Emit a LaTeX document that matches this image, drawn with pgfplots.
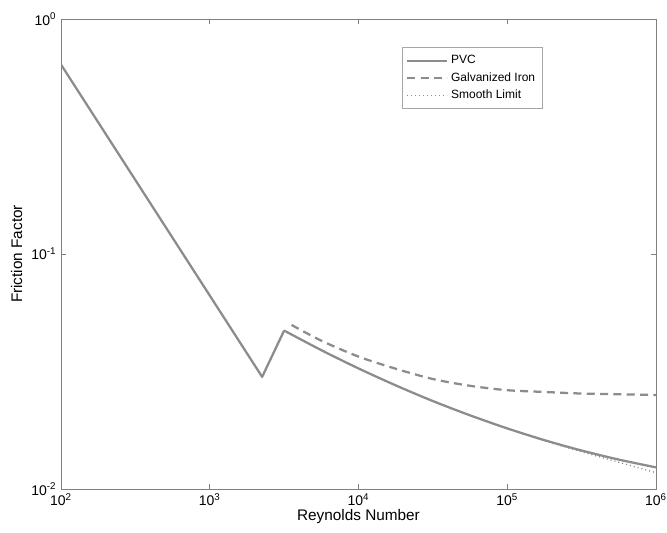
\documentclass[border=0pt]{standalone}
\usepackage{pgfplots}
\pgfplotsset{compat=1.18}
\usepackage{fontspec}
\setmainfont{Liberation Sans}
\usetikzlibrary{calc}
\definecolor{lc}{RGB}{140,140,140}
\begin{document}
\begin{tikzpicture}[x=1pt,y=1pt]
\begin{axis}[
  name=ax,
  xmode=log, ymode=log,
  log basis x=10, log basis y=10,
  scale only axis,
  width=446.25pt, height=352.5pt,
  xmin=100, xmax=1e6, ymin=0.01, ymax=1,
  axis line style={black!50, line width=0.5pt},
  tick style={black!50, line width=0.4pt},
  tick align=inside,
  major tick length=4pt, minor tick length=2.5pt,
  xtick={1e2,1e3,1e4,1e5,1e6},
  ytick={1e-2,1e-1,1e0},
  /pgf/number format/assume math mode=true,
  xticklabel={10\textsuperscript{\pgfmathprintnumber[fixed,precision=0]{\tick}}},
  yticklabel={10\textsuperscript{\pgfmathprintnumber[fixed,precision=0]{\tick}}},
  ticklabel style={font=\fontsize{10.5}{12}\selectfont},
  xlabel={Reynolds Number},
  ylabel={Friction Factor},
  label style={font=\fontsize{11.5}{13}\selectfont},
  xlabel style={yshift=4pt},
  legend style={at={(0.573,0.94)}, anchor=north west, draw=black!35,
    font=\fontsize{9}{11}\selectfont, row sep=1pt, inner xsep=3pt, inner ysep=4pt},
  legend cell align=left,
  legend image code/.code={\draw[#1] (0pt,0pt) -- (30pt,0pt);},
]
% laminar + transition (sharp corners)
\addplot[lc, line width=1.7pt, line join=round, forget plot] coordinates {
(100,0.64) (2250,0.0300) (3162,0.04723)
};
% PVC turbulent
\addplot[lc, line width=1.7pt, smooth, tension=0.5] coordinates {
(3162,0.04723) (5623,0.03899) (10000,0.03259) (17783,0.02761) (31623,0.02367)
(56234,0.02058) (100000,0.01811) (177828,0.01614) (316228,0.01458)
(562341,0.01334) (1000000,0.01236)
};
\addlegendentry{PVC}
\addplot[lc, line width=1.7pt, dash pattern=on 6pt off 4pt, smooth, tension=0.5] coordinates {
(3548,0.0499) (5623,0.04277) (10000,0.0366) (17783,0.0325) (31623,0.02938)
(56234,0.02749) (100000,0.02633) (177828,0.02588) (316228,0.02548)
(562341,0.0253) (1000000,0.02512)
};
\addlegendentry{Galvanized Iron}
\addplot[lc, line width=1pt, dash pattern=on 0.8pt off 2.2pt, smooth, tension=0.5] coordinates {
(3162,0.04723) (5623,0.03899) (10000,0.03259) (17783,0.02761) (31623,0.02367)
(56234,0.02058) (100000,0.01808) (177828,0.01605) (316228,0.01440)
(562341,0.01300) (1000000,0.01173)
};
\addlegendentry{Smooth Limit}
\end{axis}
\pgfresetboundingbox
\useasboundingbox ($(ax.south west)+(-45.75pt,-32.25pt)$) rectangle ($(ax.north east)+(8.25pt,14.25pt)$);
\end{tikzpicture}
\end{document}
